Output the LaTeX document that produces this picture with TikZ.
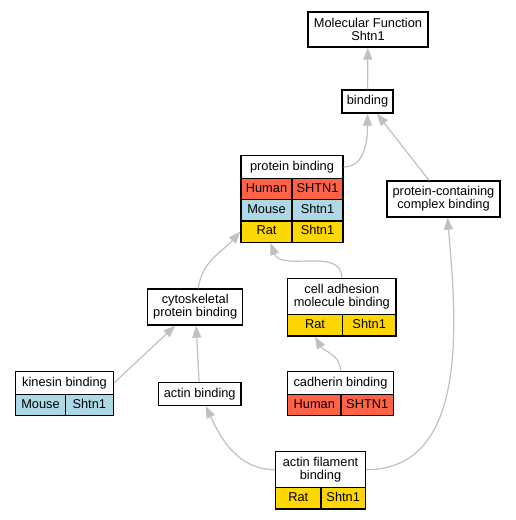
\documentclass[tikz,border=0pt]{standalone}
\usepackage{fontspec}
\setmainfont{Liberation Sans}
\usetikzlibrary{arrows.meta}
\definecolor{human}{HTML}{FF6347}
\definecolor{mouse}{HTML}{ADD8E6}
\definecolor{rat}{HTML}{FFD700}
\definecolor{edgegray}{HTML}{C0C0C0}
\tikzset{
  term/.style={draw, line width=1.3pt, fill=white, inner sep=0pt, align=center},
  oneline/.style={term, text height=9.2pt, text depth=2.6pt},
  cell/.style={oneline, minimum height=21.4pt},
  edge/.style={draw=edgegray, line width=1.2pt, -{Triangle[length=12pt,width=9pt]}},
}
\begin{document}
\begin{tikzpicture}[x=1pt, y=1pt, every node/.style={font=\fontsize{12.8}{12.8}\selectfont}]
    \useasboundingbox (0,0) rectangle (516,-520);
    % terms
    \node[term, minimum width=120pt, minimum height=35pt] (mf) at (368,-29.5) {Molecular Function\\Shtn1};
    \node[oneline, minimum width=51pt, minimum height=23pt] (bind) at (367.5,-101.5) {binding};
    \node[oneline, minimum width=102pt, minimum height=22.6pt] (pb) at (292,-167) {protein binding};
    \node[cell, fill=human, minimum width=51pt, minimum height=21.3pt] (pbhuman) at (266.5,-188.9) {Human};
    \node[cell, fill=human, minimum width=51pt, minimum height=21.3pt] (pbhumangene) at (317.5,-188.9) {SHTN1};
    \node[cell, fill=mouse, minimum width=51pt, minimum height=21.3pt] (pbmouse) at (266.5,-210.3) {Mouse};
    \node[cell, fill=mouse, minimum width=51pt, minimum height=21.3pt] (pbmousegene) at (317.5,-210.3) {Shtn1};
    \node[cell, fill=rat, minimum width=51pt, minimum height=21.3pt] (pbrat) at (266.5,-231.6) {Rat};
    \node[cell, fill=rat, minimum width=51pt, minimum height=21.3pt] (pbratgene) at (317.5,-231.6) {Shtn1};
    \node[term, minimum width=113pt, minimum height=36pt] (pcc) at (443.5,-199) {protein-containing\\complex binding};
    \node[term, minimum width=95pt, minimum height=36pt] (cyto) at (195.2,-307) {cytoskeletal\\protein binding};
    \node[oneline, minimum width=97.6pt, minimum height=22.6pt] (kin) at (64.5,-383) {kinesin binding};
    \node[cell, fill=mouse, minimum width=49.6pt] (kinmouse) at (40.5,-405) {Mouse};
    \node[cell, fill=mouse, minimum width=48pt] (kinmousegene) at (89.3,-405) {Shtn1};
    \node[oneline, minimum width=82.7pt, minimum height=23pt] (ab) at (199.7,-393.8) {actin binding};
    \node[term, minimum width=108.3pt, minimum height=36pt] (cam) at (341.8,-296.3) {cell adhesion\\molecule binding};
    \node[cell, fill=rat, minimum width=54.6pt, minimum height=21.7pt] (camrat) at (315,-325.2) {Rat};
    \node[cell, fill=rat, minimum width=53.7pt, minimum height=21.7pt] (camratgene) at (369.2,-325.2) {Shtn1};
    \node[oneline, minimum width=105.6pt, minimum height=22.6pt] (cad) at (340.5,-383) {cadherin binding};
    \node[cell, fill=human, minimum width=53.3pt] (cadhuman) at (314.3,-405) {Human};
    \node[cell, fill=human, minimum width=52.3pt] (cadhumangene) at (367.2,-405) {SHTN1};
    \node[term, minimum width=89.6pt, minimum height=36pt] (afb) at (320.5,-469.7) {actin filament\\binding};
    \node[cell, fill=rat, minimum width=45.3pt, minimum height=21.3pt] (afbrat) at (298.3,-498.3) {Rat};
    \node[cell, fill=rat, minimum width=44.3pt, minimum height=21.3pt] (afbratgene) at (343.2,-498.3) {Shtn1};
    % is_a links
    \draw[edge] (bind) -- (mf);
    \draw[edge] (pb.east) to[out=0, in=-90] (bind.south);
    \draw[edge] (pcc) -- (bind);
    \draw[edge] ([xshift=3pt]cyto.north) to[out=82, in=228] (pbrat.west);
    \draw[edge] (cam.north) to[out=90, in=-70] ([xshift=4pt]pbrat.south);
    \draw[edge] (kin.east) -- (cyto);
    \draw[edge] (ab) -- (cyto);
    \draw[edge] (cad.north) to[out=90, in=-60] (camrat.south);
    \draw[edge] (afb.west) to[out=180, in=-65] ([xshift=6pt]ab.south);
    \draw[edge] (afb.east) to[out=0, in=-85] ([xshift=4pt]pcc.south);
\end{tikzpicture}
\end{document}
